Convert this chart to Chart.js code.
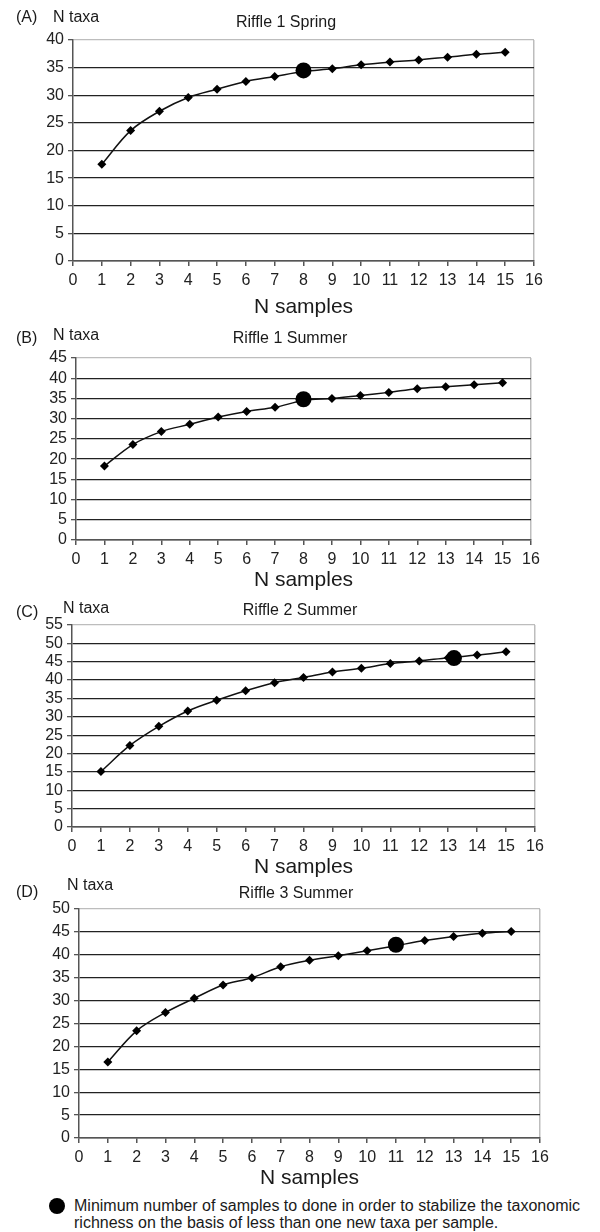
<!DOCTYPE html>
<html>
<head>
<meta charset="utf-8">
<script src="https://cdn.jsdelivr.net/npm/chart.js@4/dist/chart.umd.min.js"></script>
<style>
  body { margin: 0; background: #fff; width: 600px; height: 1232px; position: relative; overflow: hidden;
         font-family: Arial, "Liberation Sans", sans-serif; color: #1a1a1a; }
  canvas { position: absolute; left: 0; }
  .lbl { position: absolute; font-size: 16px; line-height: 18px; white-space: nowrap; z-index: 2; }
  .ttl { position: absolute; font-size: 16px; line-height: 18px; white-space: nowrap; transform: translateX(-50%); z-index: 2; }
  .legend-dot { position: absolute; left: 49px; top: 1198px; width: 16px; height: 16px; border-radius: 50%; background: #000; }
  .legend-txt { position: absolute; left: 74px; top: 1197px; font-size: 16px; line-height: 17px; white-space: nowrap; }
</style>
</head>
<body>

<div class="lbl" style="left:16px;top:8px">(A)</div>
<div class="lbl" style="left:53px;top:8px">N taxa</div>
<div class="ttl" style="left:286px;top:13px">Riffle 1 Spring</div>
<canvas id="chartA"></canvas>

<div class="lbl" style="left:16px;top:329px">(B)</div>
<div class="lbl" style="left:53px;top:326px">N taxa</div>
<div class="ttl" style="left:290px;top:329px">Riffle 1 Summer</div>
<canvas id="chartB"></canvas>

<div class="lbl" style="left:16px;top:603px">(C)</div>
<div class="lbl" style="left:63px;top:599px">N taxa</div>
<div class="ttl" style="left:300px;top:601px">Riffle 2 Summer</div>
<canvas id="chartC"></canvas>

<div class="lbl" style="left:16px;top:883px">(D)</div>
<div class="lbl" style="left:67px;top:876px">N taxa</div>
<div class="ttl" style="left:296px;top:884px">Riffle 3 Summer</div>
<canvas id="chartD"></canvas>

<div class="legend-dot"></div>
<div class="legend-txt">Minimum number of samples to done in order to stabilize the taxonomic<br>richness on the basis of less than one new taxa per sample.</div>

<script>
// データ
const samples = [1, 2, 3, 4, 5, 6, 7, 8, 9, 10, 11, 12, 13, 14, 15];

const taxaA = [17.5, 23.6, 27.1, 29.6, 31.1, 32.5, 33.4, 34.3, 34.8, 35.5, 36.0, 36.4, 36.9, 37.4, 37.8];
const taxaB = [18.3, 23.6, 26.8, 28.6, 30.4, 31.8, 32.8, 34.5, 35.0, 35.7, 36.5, 37.4, 37.9, 38.4, 38.9];
const taxaC = [15.1, 22.2, 27.4, 31.6, 34.5, 37.1, 39.3, 40.7, 42.2, 43.2, 44.5, 45.2, 46.1, 46.8, 47.7];
const taxaD = [16.6, 23.4, 27.4, 30.5, 33.4, 35.0, 37.4, 38.8, 39.8, 40.9, 42.0, 43.1, 44.0, 44.7, 45.1];

// 安定化に必要な最小サンプル数（大きい黒丸）
const stableA = { x: 8, y: 34.5 };
const stableB = { x: 8, y: 34.8 };
const stableC = { x: 13.2, y: 46.0 };
const stableD = { x: 11, y: 42.2 };

const yMaxA = 40, yMaxB = 45, yMaxC = 55, yMaxD = 50;
const xTitle = 'N samples';

Chart.defaults.font.family = 'Arial, "Liberation Sans", sans-serif';
Chart.defaults.color = '#1a1a1a';

/**
 * 1パネル分の累積種数曲線を描く
 * box: プロット領域の位置 (left, right, top, bottom) と x 軸の高さ
 */
function renderPanel(canvasId, taxa, stable, yMax, box) {
  const canvas = document.getElementById(canvasId);
  const padTop = 15;
  const axisH = box.axisH;
  canvas.width = 600;
  canvas.height = padTop + (box.bottom - box.top) + axisH;
  canvas.style.top = (box.top - padTop) + 'px';

  new Chart(canvas.getContext('2d'), {
    type: 'line',
    data: {
      datasets: [
        {
          data: [stable],
          showLine: false,
          pointStyle: 'circle',
          pointRadius: 8,
          pointBackgroundColor: '#000',
          pointBorderWidth: 0,
          order: 0,
          clip: false,
        },
        {
          data: samples.map((s, i) => ({ x: s, y: taxa[i] })),
          borderColor: '#111',
          borderWidth: 1.5,
          tension: 0.35,
          pointStyle: 'rectRot',
          pointRadius: 4.5,
          pointBackgroundColor: '#000',
          pointBorderWidth: 0,
          order: 1,
          clip: false,
        },
      ],
    },
    options: {
      responsive: false,
      animation: false,
      events: [],
      layout: { padding: { top: padTop, left: 0, right: 600 - box.right, bottom: 0 } },
      plugins: { legend: { display: false }, tooltip: { enabled: false }, title: { display: false } },
      scales: {
        x: {
          type: 'linear',
          min: 0,
          max: 16,
          afterFit: s => { s.height = axisH; },
          ticks: { stepSize: 1, autoSkip: false, padding: 5, maxRotation: 0, font: { size: 16 }, color: '#222' },
          grid: {
            color: c => (c.tick && c.tick.value === 16 ? '#bdbdbd' : 'rgba(0,0,0,0)'),
            lineWidth: 1.5,
            tickLength: 5,
            tickColor: '#555',
          },
          border: { color: '#555', width: 1.5 },
          title: {
            display: true,
            text: xTitle,
            font: { size: 21 },
            color: '#1a1a1a',
            padding: { top: 0, bottom: box.titlePad },
          },
        },
        y: {
          min: 0,
          max: yMax,
          afterFit: s => { s.width = box.left; },
          ticks: { stepSize: 5, autoSkip: false, padding: 4, font: { size: 16 }, color: '#222' },
          grid: {
            color: c => (c.tick && c.tick.value === yMax ? '#bdbdbd' : '#222'),
            lineWidth: 1.3,
            tickLength: 5,
            tickColor: '#555',
          },
          border: { color: '#555', width: 1.5 },
        },
      },
    },
  });
}

renderPanel('chartA', taxaA, stableA, yMaxA, { left: 73, right: 534, top: 40, bottom: 261, axisH: 60, titlePad: 1 });
renderPanel('chartB', taxaB, stableB, yMaxB, { left: 76, right: 531, top: 358, bottom: 540, axisH: 55, titlePad: 2 });
renderPanel('chartC', taxaC, stableC, yMaxC, { left: 72, right: 535, top: 625, bottom: 827, axisH: 55, titlePad: 2 });
renderPanel('chartD', taxaD, stableD, yMaxD, { left: 79, right: 540, top: 909, bottom: 1138, axisH: 55, titlePad: 2 });
</script>
</body>
</html>
